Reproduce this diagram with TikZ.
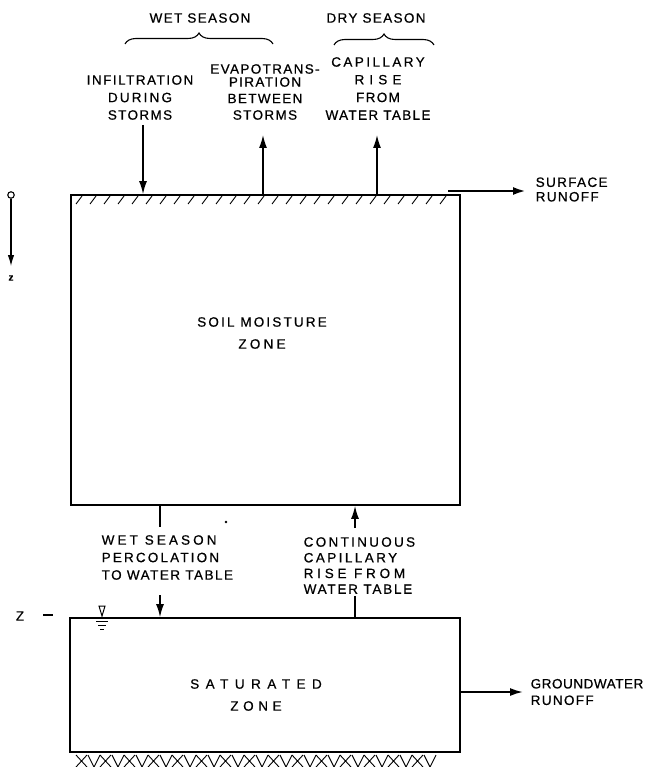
\documentclass[tikz,border=0pt]{standalone}
\usepackage{fontspec}
\setmainfont{Liberation Sans}[LetterSpace=10,FakeBold=0.6]
\usetikzlibrary{arrows.meta,decorations.pathreplacing}
\newcommand\lsp[2]{{\addfontfeatures{LetterSpace=#1}#2}}
\begin{document}
\begin{tikzpicture}[x=1pt,y=-1pt, line width=1.4pt,
  every node/.style={inner sep=0pt},
  lbl/.style={align=center, font=\fontsize{13.5}{17.5}\selectfont},
  lbll/.style={align=left, font=\fontsize{13.5}{17.5}\selectfont},
  zone/.style={draw, line width=1.8pt, rectangle},
  arr/.style={-{Latex[length=13pt,width=8pt]}, line width=1.4pt},
  hatch/.style={line width=0.9pt},
  brc/.style={decorate, decoration={brace, amplitude=11pt}, line width=1.1pt}]
\useasboundingbox (0,0) rectangle (653,767);

% season headings and braces
\node[lbl] (wet) at (200,18) {WET SEASON};
\node[lbl] (dry) at (376,18) {DRY SEASON};
\coordinate (wb1) at (125,44); \coordinate (wb2) at (273,44);
\coordinate (db1) at (334,45); \coordinate (db2) at (434,45);
\draw[brc] (wb1) -- (wb2);
\draw[brc] (db1) -- (db2);

% top labels
\node[lbl] (infil) at (140,97.5) {\lsp{11}{INFILTRATION}\\\lsp{16}{DURING}\\STORMS};
\node[lbl, font=\fontsize{13.5}{16.5}\selectfont] (evap) at (265,92) {EVAPOTRANS-\\[-3.5pt]PIRATION\\BETWEEN\\STORMS};
\node[lbl, font=\fontsize{13.5}{17.7}\selectfont] (cap) at (378,88.5) {\lsp{18}{CAPILLARY}\\\lsp{38}{RISE}\\FROM\\WATER TABLE};

% zones
\node[zone, minimum width=389pt, minimum height=310pt] (soil) at (265.5,350) {};
\node[lbl, font=\fontsize{13.5}{22}\selectfont] (soiltxt) at (262,333) {\lsp{16}{SOIL MOISTURE}\\\lsp{24}{ZONE}};
\node[zone, minimum width=390pt, minimum height=134pt] (sat) at (265,685) {};
\node[lbl, font=\fontsize{13.5}{22}\selectfont] (sattxt) at (256,695) {\lsp{48}{SATURATED}\\\lsp{34}{ZONE}};

% surface hatching
\foreach \x in {76,90,...,450} \draw[hatch] (\x,204) -- (\x+6,196);
% bedrock hatching
\foreach \x in {76,100,...,430} {
  \draw[hatch] (\x,755) -- (\x+11,767) (\x,767) -- (\x+11,755);
  \draw[hatch] (\x+12,755) -- (\x+18,767) -- (\x+24,755);
}

% top fluxes
\coordinate (ci) at (143,125);
\coordinate (ce) at (263,135);
\coordinate (cc) at (377,135);
\draw[arr] (ci) -- (ci |- soil.north);
\draw[arr] (ce |- soil.north) -- (ce);
\draw[arr] (cc |- soil.north) -- (cc);

% surface runoff
\node[lbll, font=\fontsize{13.5}{14.5}\selectfont, anchor=west] (surf) at (535,189.5) {SURFACE\\RUNOFF};
\coordinate (sr0) at (448,191); \coordinate (sr1) at (526,191);
\draw[arr, line width=2.4pt] (sr0) -- (sr1);

% groundwater runoff
\node[lbll, font=\fontsize{13.5}{16.5}\selectfont, anchor=west] (gw) at (530,692) {\lsp{4}{GROUNDWATER}\\RUNOFF};
\coordinate (gw0) at (460,692); \coordinate (gw1) at (523,692);
\draw[arr, line width=1.8pt] (gw0) -- (gw1);

% percolation
\node[lbll, anchor=west] (perc) at (101,557.5) {\lsp{23}{WET SEASON}\\\lsp{16}{PERCOLATION}\\\lsp{11}{TO WATER TABLE}};
\coordinate (p0) at (160,527); \coordinate (p1) at (160,595);
\draw (p0 |- soil.south) -- (p0);
\draw[arr] (p1) -- (p1 |- sat.north);
\fill (226,522) circle (1.3);

% continuous capillary rise
\node[lbll, anchor=west, font=\fontsize{13.5}{15.7}\selectfont] (cont) at (303,565.5) {\lsp{17}{CONTINUOUS}\\\lsp{18}{CAPILLARY}\\\lsp{28}{RISE FROM}\\\lsp{13}{WATER TABLE}};
\coordinate (r0) at (355,528); \coordinate (r1) at (355,596);
\draw[arr] (r0) -- (r0 |- soil.south);
\draw (r1) -- (r1 |- sat.north);

% water table symbol
\draw[line width=1pt] (99,606) -- (105,606) -- (102,616) -- cycle;
\draw[line width=1pt] (96,621) -- (108,621) (98,625) -- (106,625) (100,629) -- (104,629);
\node[font=\fontsize{13.5}{15}\selectfont] (zlab) at (20,616) {Z};
\coordinate (zd0) at (43,615); \coordinate (zd1) at (53,615);
\draw (zd0) -- (zd1);

% depth axis
\node[draw, circle, minimum size=6.5pt, line width=1.1pt] (orig) at (11,195) {};
\node[font=\fontsize{10}{12}\bfseries] (zax) at (11,278) {z};
\draw[-{Latex[length=11pt,width=6.5pt]}, line width=1.1pt] (orig) -- (11,266);
\end{tikzpicture}
\end{document}
